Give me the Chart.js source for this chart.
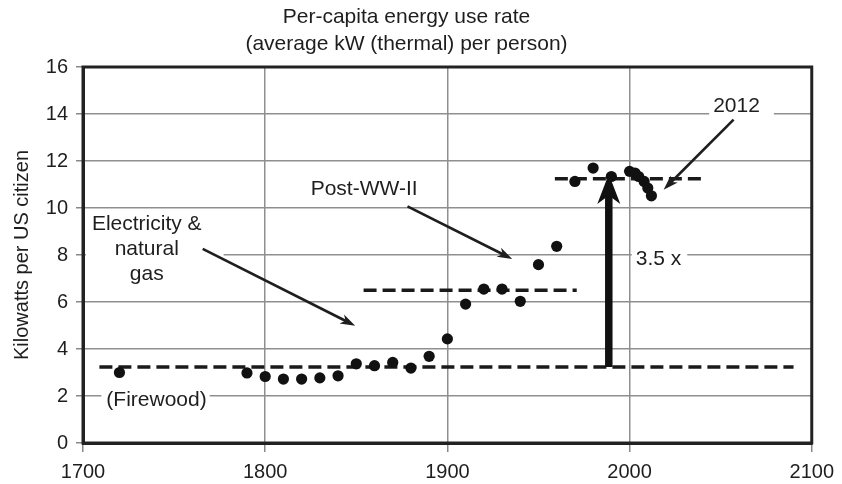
<!DOCTYPE html>
<html>
<head>
<meta charset="utf-8">
<script src="https://cdn.jsdelivr.net/npm/chart.js@4.4.1/dist/chart.umd.min.js"></script>
<style>
  html, body { margin: 0; padding: 0; background: #fff; }
  #wrap { width: 842px; height: 484px; }
</style>
</head>
<body>
<div id="wrap"><canvas id="myChart" width="842" height="484"></canvas></div>
<script>
// US per-capita energy use (kW thermal per person)
const years = [1720, 1790, 1800, 1810, 1820, 1830, 1840, 1850, 1860, 1870, 1880, 1890,
  1900, 1910, 1920, 1930, 1940, 1950, 1960, 1970, 1980, 1990, 2000, 2003, 2005, 2008, 2010, 2012];
const kw = [3.0, 2.98, 2.83, 2.72, 2.72, 2.77, 2.86, 3.37, 3.29, 3.43, 3.19, 3.69,
  4.43, 5.91, 6.55, 6.55, 6.03, 7.59, 8.37, 11.13, 11.7, 11.34, 11.56, 11.49, 11.34, 11.13, 10.85, 10.52];

// dashed plateau levels (firewood, post-war, modern)
const levelStarts = [1709, 1854, 1959];
const levelEnds = [2090, 1971, 2042];
const levelValues = [3.23, 6.5, 11.25];

// the "3.5 x" jump arrow
const jumpYear = 1988.6;
const jumpFrom = 3.23;
const jumpTo = 11.45;

const xTicks = [1700, 1800, 1900, 2000, 2100];

const FONT = '"Liberation Sans", Arial, Helvetica, sans-serif';
const INK = '#1e1e1e';

// text notes, anchored in data units
const notes = [
  { lines: ['Electricity &', 'natural', 'gas'], x: 1735, y: 9.3, align: 'center', padL: 6, padR: 22 },
  { lines: ['Post-WW-II'], x: 1854.3, y: 10.78, align: 'center', padL: 4, padR: 4 },
  { lines: ['2012'], x: 2058.7, y: 14.35, align: 'center', padL: 4, padR: 14 },
  { lines: ['3.5 x'], x: 2003.4, y: 7.8, align: 'left', padL: 4, padR: 6 },
  { lines: ['(Firewood)'], x: 1712.8, y: 1.8, align: 'left', padL: 5, padR: 3 }
];

// thin pointer arrows: [fromYear, fromVal, toYear, toVal]
const pointers = [
  [1765.7, 8.26, 1849.4, 4.99],
  [1878.1, 10.07, 1935.6, 7.83],
  [2057.1, 13.76, 2018.7, 10.78]
];

function arrow(ctx, x1, y1, x2, y2, w, headLen, headW) {
  const a = Math.atan2(y2 - y1, x2 - x1);
  ctx.beginPath();
  ctx.moveTo(x1, y1);
  ctx.lineTo(x2 - Math.cos(a) * headLen * 0.7, y2 - Math.sin(a) * headLen * 0.7);
  ctx.lineWidth = w;
  ctx.stroke();
  ctx.save();
  ctx.translate(x2, y2);
  ctx.rotate(a);
  ctx.beginPath();
  ctx.moveTo(0, 0);
  ctx.lineTo(-headLen, -headW);
  ctx.lineTo(-headLen * 0.72, 0);
  ctx.lineTo(-headLen, headW);
  ctx.closePath();
  ctx.fill();
  ctx.restore();
}

const annotate = {
  id: 'annotate',
  beforeDatasetsDraw(chart) {
    const { ctx, scales: { x, y } } = chart;
    ctx.save();
    ctx.font = '21px ' + FONT;
    ctx.textBaseline = 'middle';
    const lh = 25;
    notes.forEach(n => {
      const px = x.getPixelForValue(n.x);
      const py = y.getPixelForValue(n.y);
      const widths = n.lines.map(t => ctx.measureText(t).width);
      const maxW = Math.max(...widths);
      const left = n.align === 'center' ? px - maxW / 2 : px;
      ctx.fillStyle = '#fff';
      ctx.fillRect(left - n.padL, py - 12, maxW + n.padL + n.padR, lh * (n.lines.length - 1) + 24);
      ctx.fillStyle = INK;
      ctx.textAlign = n.align;
      n.lines.forEach((t, i) => ctx.fillText(t, px, py + i * lh));
    });
    ctx.restore();
  },
  afterDatasetsDraw(chart) {
    const { ctx, chartArea: a, scales: { x, y } } = chart;
    ctx.save();
    ctx.strokeStyle = INK;
    ctx.fillStyle = INK;
    pointers.forEach(p => {
      arrow(ctx, x.getPixelForValue(p[0]), y.getPixelForValue(p[1]),
        x.getPixelForValue(p[2]), y.getPixelForValue(p[3]), 2.6, 15, 5);
    });
    ctx.fillStyle = '#111';
    ctx.strokeStyle = '#111';
    const jx = x.getPixelForValue(jumpYear);
    arrow(ctx, jx, y.getPixelForValue(jumpFrom), jx, y.getPixelForValue(jumpTo), 7.5, 30, 11.5);
    // plot frame
    ctx.lineWidth = 3;
    ctx.strokeStyle = '#222';
    ctx.strokeRect(a.left, a.top, a.right - a.left, a.bottom - a.top);
    ctx.restore();
  }
};

const points = years.map((yr, i) => ({ x: yr, y: kw[i] }));

const levelSets = levelValues.map((v, i) => ({
  type: 'line',
  data: [{ x: levelStarts[i], y: v }, { x: levelEnds[i], y: v }],
  borderColor: '#1a1a1a',
  borderWidth: 3.5,
  borderDash: [13, 6],
  pointRadius: 0,
  fill: false
}));

const config = {
  type: 'scatter',
  data: {
    datasets: [{
      data: points,
      backgroundColor: '#111',
      borderWidth: 0,
      pointRadius: 5.6
    }].concat(levelSets)
  },
  options: {
    responsive: false,
    animation: false,
    layout: { padding: { left: 0, right: 29, top: 0, bottom: 0 } },
    plugins: {
      legend: { display: false },
      tooltip: { enabled: false },
      title: {
        display: true,
        text: ['Per-capita energy use rate', '(average kW (thermal) per person)'],
        color: INK,
        font: { family: FONT, size: 21, weight: 'normal', lineHeight: 27 / 21 },
        padding: { top: 3.5, bottom: 9.5 }
      }
    },
    scales: {
      x: {
        type: 'linear',
        min: 1700,
        max: 2100,
        afterBuildTicks: s => { s.ticks = xTicks.map(v => ({ value: v })); },
        afterFit: s => { s.height = 41; },
        ticks: { color: INK, font: { family: FONT, size: 20 }, padding: 8, callback: v => String(v) },
        grid: { color: '#8f8f8f', lineWidth: 1.5, tickLength: 9, tickColor: '#888' },
        border: { color: '#222', width: 3 }
      },
      y: {
        min: 0,
        max: 16,
        afterFit: s => { s.width = 83; },
        ticks: { stepSize: 2, color: INK, font: { family: FONT, size: 20 }, padding: 8 },
        grid: { color: '#8f8f8f', lineWidth: 1.5, tickLength: 7, tickColor: '#888' },
        border: { color: '#222', width: 3 },
        title: {
          display: true,
          text: 'Kilowatts per US citizen',
          color: INK,
          font: { family: FONT, size: 20 },
          padding: { top: 10, bottom: 0 }
        }
      }
    }
  },
  plugins: [annotate]
};

const myChart = new Chart(document.getElementById('myChart'), config);
</script>
</body>
</html>
